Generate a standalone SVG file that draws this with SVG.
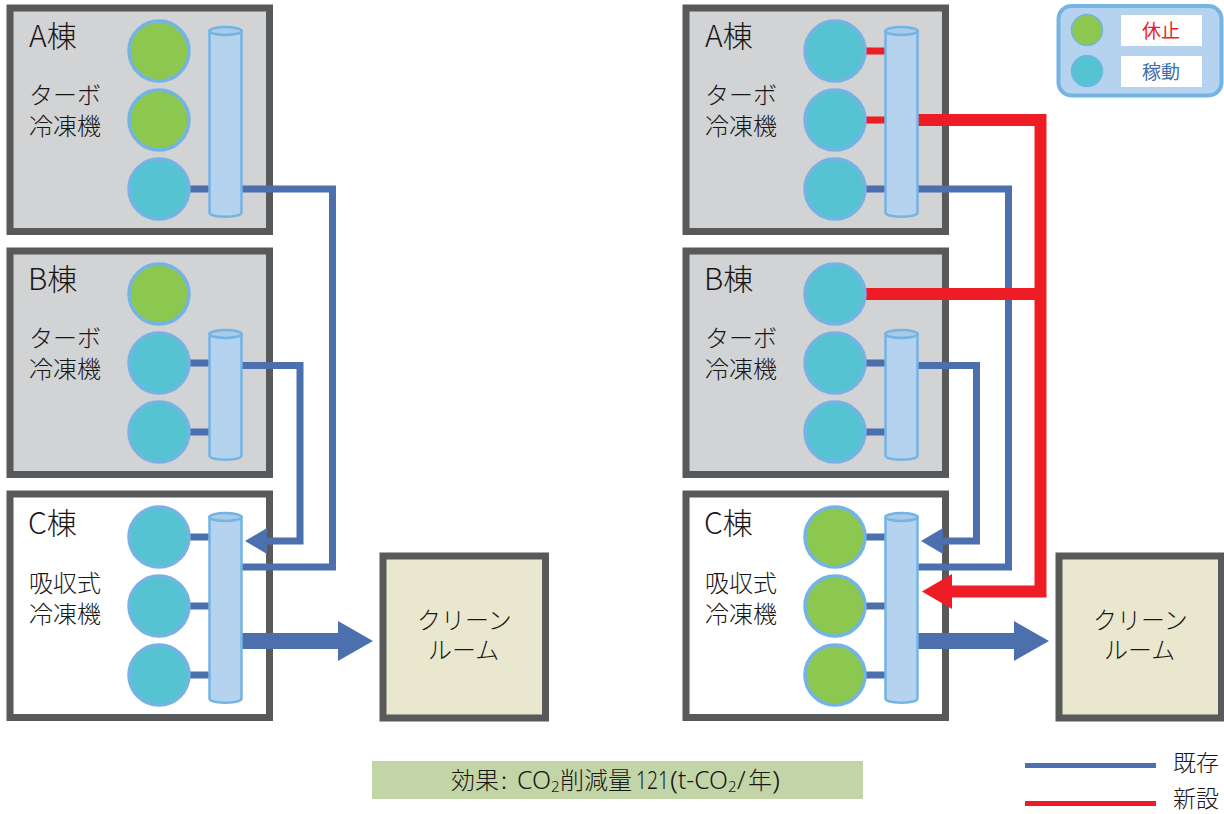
<svg xmlns="http://www.w3.org/2000/svg" width="1224" height="814" viewBox="0 0 1224 814">
<style>
text{font-family:"Noto Sans CJK JP","Noto Sans",sans-serif;fill:#1a1718;font-weight:300}
.title{font-size:30px}.lab{font-size:24px}.leg{font-size:23px}
.lat{font-family:"Noto Sans",sans-serif}
.bld{stroke:#58595b;stroke-width:7}
.gray{fill:#d1d3d4}.white{fill:#fff}.room{fill:#e9e8cf}
.on,.off{stroke:#74b4e4;stroke-width:3.5}
.on{fill:#55c3d1}.off{fill:#8cc750}
.cyl{fill:#b5d3ee;stroke:#74b4e4;stroke-width:2.5}
.cap{fill:#a9cbe8;stroke:#74b4e4;stroke-width:2.5}
.b{fill:none;stroke:#4c6fae;stroke-width:7}
.bw{fill:none;stroke:#4c6fae;stroke-width:16}
.r{fill:none;stroke:#ee1c25;stroke-width:7}
.rw{fill:none;stroke:#ee1c25;stroke-width:12}
.ba{fill:#4c6fae}.ra{fill:#ee1c25}
</style>
<g id="boxes-left">
<g id="L-A"><rect class="bld gray" x="10" y="8" width="259.500" height="223.500"/><text class="title" x="29" y="47">A棟</text><text class="lab" x="29" y="104">ターボ</text><text class="lab" x="29" y="135">冷凍機</text></g>
<g id="L-B"><rect class="bld gray" x="10" y="251" width="259.500" height="223.500"/><text class="title" x="28" y="290">B棟</text><text class="lab" x="29" y="347">ターボ</text><text class="lab" x="29" y="378">冷凍機</text></g>
<g id="L-C"><rect class="bld white" x="10" y="494" width="259.500" height="223.500"/><text class="title" x="28" y="534">C棟</text><text class="lab" x="29" y="592">吸収式</text><text class="lab" x="29" y="623">冷凍機</text></g>
<g id="L-room"><rect class="bld room" x="383" y="556" width="162.500" height="162"/><text class="lab" x="417" y="629">クリーン</text><text class="lab" x="428" y="659">ルーム</text></g>
</g>
<g id="boxes-right">
<g id="R-A"><rect class="bld gray" x="686" y="8" width="259.500" height="223.500"/><text class="title" x="705" y="47">A棟</text><text class="lab" x="705" y="104">ターボ</text><text class="lab" x="705" y="135">冷凍機</text></g>
<g id="R-B"><rect class="bld gray" x="686" y="251" width="259.500" height="223.500"/><text class="title" x="704" y="290">B棟</text><text class="lab" x="705" y="347">ターボ</text><text class="lab" x="705" y="378">冷凍機</text></g>
<g id="R-C"><rect class="bld white" x="686" y="494" width="259.500" height="223.500"/><text class="title" x="704" y="534">C棟</text><text class="lab" x="705" y="592">吸収式</text><text class="lab" x="705" y="623">冷凍機</text></g>
<g id="R-room"><rect class="bld room" x="1059" y="556" width="162.500" height="162"/><text class="lab" x="1093" y="629">クリーン</text><text class="lab" x="1104" y="659">ルーム</text></g>
</g>
<g id="connectors">
<path class="b" d="M190 189H332.500V567H242"/>
<path class="b" d="M190 363H209M242 365.500H300V541H262"/>
<path class="b" d="M190 432H209M190 537H209M190 606H209M190 675H209"/>
<polygon class="ba" points="245,541 267,528 267,554"/>
<path class="bw" d="M241 641H340"/>
<polygon class="ba" points="373,641 338,621 338,661"/>
<path class="b" d="M866 189H1008.500V567H918"/>
<path class="b" d="M866 363H885M918 365.500H976.500V541H938"/>
<path class="b" d="M866 432H885M866 537H885M866 606H885M866 675H885"/>
<polygon class="ba" points="921,541 943,528 943,554"/>
<path class="bw" d="M917 641H1016"/>
<polygon class="ba" points="1049,641 1014,621 1014,661"/>
<path class="r" d="M866 51H885M866 120H885"/>
<path class="rw" d="M918 120H1040.500V591.500H948"/>
<path class="rw" d="M866 294H1040"/>
<polygon class="ra" points="922,591.500 952,574 952,609"/>
</g>
<g id="left-units">
<circle class="off" cx="159" cy="51" r="30"/><circle class="off" cx="159" cy="120" r="30"/><circle class="on" cx="159" cy="189" r="30"/>
<circle class="off" cx="159" cy="294" r="30"/><circle class="on" cx="159" cy="363" r="30"/><circle class="on" cx="159" cy="432" r="30"/>
<circle class="on" cx="159" cy="537" r="30"/><circle class="on" cx="159" cy="606" r="30"/><circle class="on" cx="159" cy="675" r="30"/>
</g>
<g id="right-units">
<circle class="on" cx="835" cy="51" r="30"/><circle class="on" cx="835" cy="120" r="30"/><circle class="on" cx="835" cy="189" r="30"/>
<circle class="on" cx="835" cy="294" r="30"/><circle class="on" cx="835" cy="363" r="30"/><circle class="on" cx="835" cy="432" r="30"/>
<circle class="off" cx="835" cy="537" r="30"/><circle class="off" cx="835" cy="606" r="30"/><circle class="off" cx="835" cy="675" r="30"/>
</g>
<g id="headers">
<g id="hdr-LA"><path class="cyl" d="M209.500 31V212.500C209.500 218 241.500 218 241.500 212.500V31Z"/><ellipse class="cap" cx="225.500" cy="31" rx="16" ry="4"/></g>
<g id="hdr-LB"><path class="cyl" d="M209.500 334V455.500C209.500 461 241.500 461 241.500 455.500V334Z"/><ellipse class="cap" cx="225.500" cy="334" rx="16" ry="4"/></g>
<g id="hdr-LC"><path class="cyl" d="M209.500 517V698.500C209.500 704 241.500 704 241.500 698.500V517Z"/><ellipse class="cap" cx="225.500" cy="517" rx="16" ry="4"/></g>
<g id="hdr-RA"><path class="cyl" d="M885.500 31V212.500C885.500 218 917.500 218 917.500 212.500V31Z"/><ellipse class="cap" cx="901.500" cy="31" rx="16" ry="4"/></g>
<g id="hdr-RB"><path class="cyl" d="M885.500 334V455.500C885.500 461 917.500 461 917.500 455.500V334Z"/><ellipse class="cap" cx="901.500" cy="334" rx="16" ry="4"/></g>
<g id="hdr-RC"><path class="cyl" d="M885.500 517V698.500C885.500 704 917.500 704 917.500 698.500V517Z"/><ellipse class="cap" cx="901.500" cy="517" rx="16" ry="4"/></g>
</g>
<g id="status-legend">
<rect x="1058.500" y="6" width="163" height="89.500" rx="13" fill="#b5d3ee" stroke="#74b4e4" stroke-width="4"/>
<circle cx="1087" cy="30" r="15.500" fill="#8cc750" stroke="#74b4e4" stroke-width="1.500"/>
<circle cx="1087" cy="71" r="15.500" fill="#55c3d1" stroke="#74b4e4" stroke-width="1.500"/>
<rect x="1121" y="15" width="81" height="31" fill="#fff"/>
<rect x="1121" y="56" width="81" height="31" fill="#fff"/>
<text x="1161" y="38" font-size="19" text-anchor="middle" style="fill:#ee1c25;font-weight:400">休止</text>
<text x="1161" y="79" font-size="19" text-anchor="middle" style="fill:#3e6fae;font-weight:400">稼動</text>
</g>
<g id="effect">
<rect x="372" y="761" width="491" height="38" fill="#c2d5a7"/>
<text class="lab" y="789"><tspan x="451">効果</tspan><tspan x="501">:</tspan><tspan class="lat" x="517" font-size="25" textLength="34" lengthAdjust="spacingAndGlyphs">CO</tspan><tspan class="lat" x="551" dy="3" font-size="15">2</tspan><tspan x="560" dy="-3">削減量</tspan><tspan class="lat" x="636" font-size="25" textLength="33" lengthAdjust="spacingAndGlyphs">121</tspan><tspan class="lat" x="670" font-size="25" textLength="8" lengthAdjust="spacingAndGlyphs">(</tspan><tspan class="lat" x="678" font-size="25" textLength="50" lengthAdjust="spacingAndGlyphs">t-CO</tspan><tspan class="lat" x="728" dy="3" font-size="15">2</tspan><tspan class="lat" x="737" dy="-3" font-size="25">/</tspan><tspan x="748">年</tspan><tspan class="lat" x="772" font-size="25" textLength="8" lengthAdjust="spacingAndGlyphs">)</tspan></text>
</g>
<g id="line-legend">
<rect x="1025" y="763" width="131" height="5" fill="#4c6fae"/>
<rect x="1025" y="801" width="131" height="5" fill="#ee1c25"/>
<text class="leg" x="1173" y="771">既存</text>
<text class="leg" x="1173" y="807">新設</text>
</g>
</svg>
